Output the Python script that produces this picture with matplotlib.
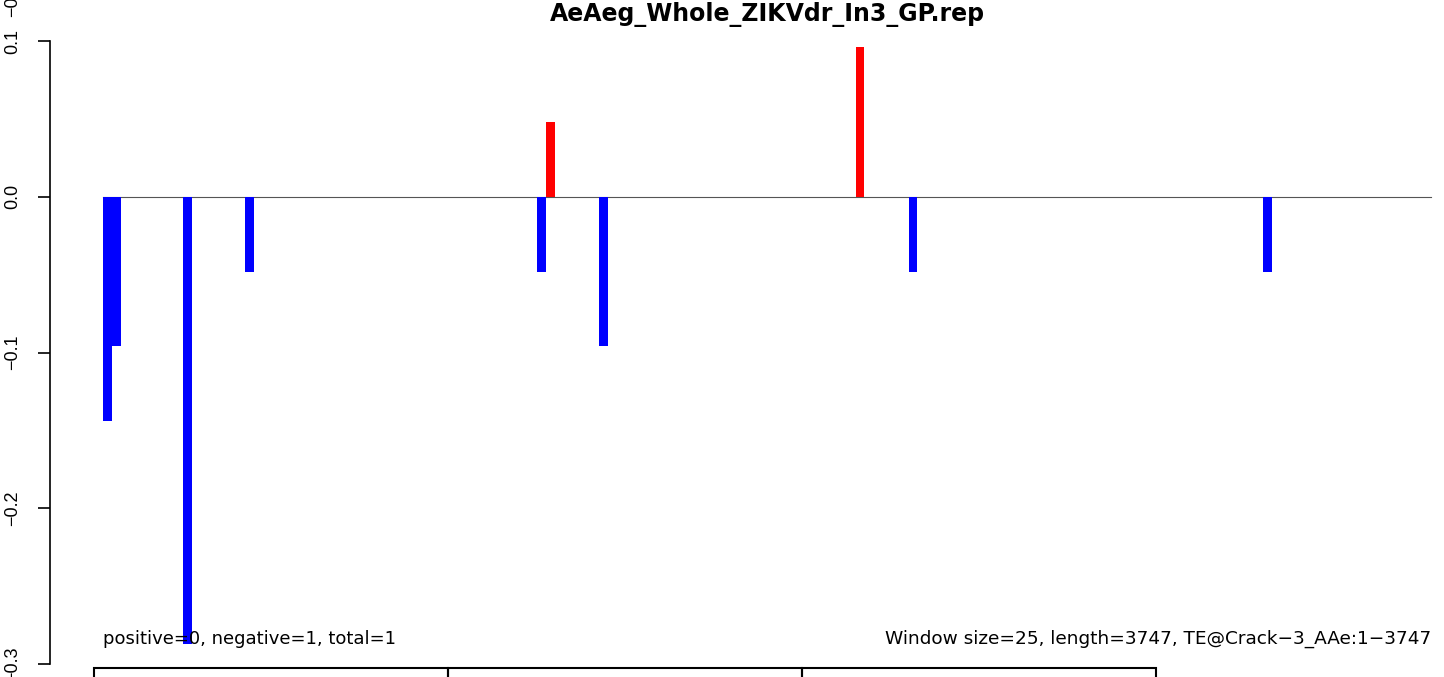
#!/usr/bin/env python3
"""Window bar plot of per-window score along a TE (R base-graphics look)."""

import matplotlib

matplotlib.use("Agg")
import matplotlib.patches as mpatches
import matplotlib.pyplot as plt

OUT = "out.png"

TITLE = "AeAeg_Whole_ZIKVdr_In3_GP.rep"
LEFT_NOTE = "positive=0, negative=1, total=1"
RIGHT_NOTE = "Window size=25, length=3747, TE@Crack\u22123_AAe:1\u22123747"

WINDOW = 25
LENGTH = 3747
# window start positions (bp) and their scores
WIN_START = [0, 25, 225, 400, 1225, 1250, 1400, 2125, 2275, 3275]
WIN_VALUE = [-0.144, -0.096, -0.287, -0.048, -0.048, 0.048, -0.096, 0.096, -0.048, -0.048]

Y_TICKS = [-0.3, -0.2, -0.1, 0.0, 0.1]
Y_TICK_LABELS = ["\u22120.3", "\u22120.2", "\u22120.1", "0.0", "0.1"]

# boundaries of the (cropped) panel below
LOWER_PANEL_EDGES = [-25, 975, 1975, 2975]

C_POS = "#FF0000"
C_NEG = "#0000FF"

W, H = 1444, 677


def main():
    fig = plt.figure(figsize=(W / 100, H / 100), dpi=100)
    ax = fig.add_axes([50 / W, 0, 1434 / W, 1])
    ax.set_xlim(-150, 3900)
    ax.set_ylim(0.1 - 636 / 1557.5, 0.1 + 41 / 1557.5)

    colors = [C_POS if v > 0 else C_NEG for v in WIN_VALUE]
    ax.bar(WIN_START, WIN_VALUE, width=WINDOW, align="edge", color=colors,
           linewidth=0, zorder=2)
    ax.plot([0, LENGTH + 3], [0, 0], color="#555555", lw=0.8, zorder=1)

    for s in ["top", "right", "bottom"]:
        ax.spines[s].set_visible(False)
    ax.spines["left"].set_bounds(Y_TICKS[0], Y_TICKS[-1])
    ax.spines["left"].set_linewidth(1.2)
    ax.set_xticks([])
    ax.set_yticks(Y_TICKS)
    ax.set_yticklabels(Y_TICK_LABELS, rotation=90, va="center",
                       family="Liberation Sans", fontsize=13)
    ax.tick_params(axis="y", length=8.5, width=1.2, pad=12)

    # stray tick label of the panel above (cropped)
    ax.text(-0.026, 0.1 + 24 / 1557.5, "\u22120.3", rotation=90,
            transform=ax.get_yaxis_transform(), ha="center", va="bottom",
            family="Liberation Sans", fontsize=13, clip_on=False)

    ax.text(0, -0.2872, LEFT_NOTE, ha="left", va="baseline", fontsize=13)
    ax.text(LENGTH + 3, -0.2872, RIGHT_NOTE, ha="right", va="baseline",
            fontsize=13.3)

    fig.text(767 / W, 1 - 21 / H, TITLE, ha="center", va="baseline",
             fontsize=17, fontweight="bold")

    # cropped panel below
    low = fig.add_axes([50 / W, -0.1, 1434 / W, 0.1 + 9 / H])
    low.set_xlim(ax.get_xlim())
    low.set_ylim(0, 1)
    low.axis("off")
    for a, b in zip(LOWER_PANEL_EDGES[:-1], LOWER_PANEL_EDGES[1:]):
        low.add_patch(mpatches.Rectangle((a, 0), b - a, 1, fill=False,
                                         edgecolor="black", lw=1.5,
                                         clip_on=False))

    fig.savefig(OUT, dpi=100)
    plt.close(fig)


if __name__ == "__main__":
    main()
